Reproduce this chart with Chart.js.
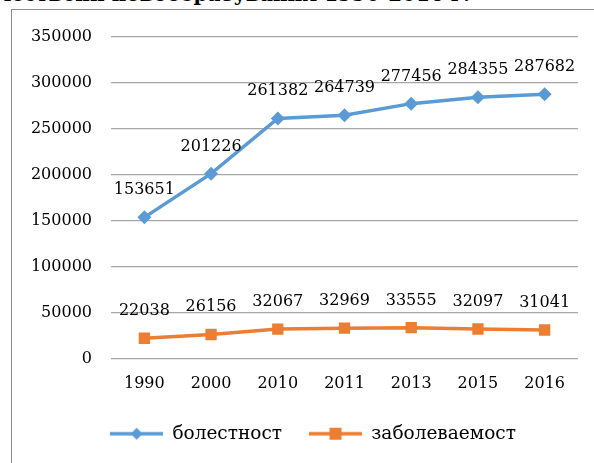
<!DOCTYPE html>
<html>
<head>
<meta charset="utf-8">
<script src="https://cdn.jsdelivr.net/npm/chart.js@4/dist/chart.umd.min.js"></script>
<style>
html,body{margin:0;padding:0;background:#fff;overflow:hidden;}
#wrap{position:relative;width:594px;height:463px;overflow:hidden;}
#frame{position:absolute;left:11px;top:9px;width:640px;height:520px;border:1px solid #8c8c8c;box-sizing:border-box;}
#head{position:absolute;right:124px;top:-18px;white-space:nowrap;font:bold 20px "DejaVu Serif",serif;color:#000;}
canvas{position:absolute;left:0;top:0;}
</style>
</head>
<body>
<div id="wrap">
	<div id="head">Болестност и заболеваемост от злокачествени новообразувания 1990-2016 г.</div>
	<div id="frame"></div>
	<canvas id="c" width="594" height="463"></canvas>
</div>
<script>
const years = ['1990','2000','2010','2011','2013','2015','2016'];
const bolestnost = [153651,201226,261382,264739,277456,284355,287682];
const zabolevaemost = [22038,26156,32067,32969,33555,32097,31041];
const blue = '#5B9BD5';
const orange = '#ED7D31';
const fontFam = '"DejaVu Serif", serif';
const fs = 16;

// legend swatch: line with the marker in the middle
function swatch(col,shape){
	var c = document.createElement('canvas');
	c.width = 53; c.height = 16;
	var g = c.getContext('2d');
	g.strokeStyle = col; g.lineWidth = 3.5;
	g.beginPath(); g.moveTo(0,8); g.lineTo(53,8); g.stroke();
	g.fillStyle = col;
	if(shape=='diamond'){
		g.beginPath(); g.moveTo(26.5,2); g.lineTo(32.5,8); g.lineTo(26.5,14); g.lineTo(20.5,8); g.closePath(); g.fill();
	}else{
		g.fillRect(20.5,2,12,12);
	}
	return c;
}

const valueLabels = {
	id:'valueLabels',
	afterDatasetsDraw:function(chart){
		var ctx = chart.ctx;
		ctx.save();
		ctx.font = fs+'px '+fontFam;
		ctx.fillStyle = '#000';
		ctx.textAlign = 'center';
		ctx.textBaseline = 'alphabetic';
		chart.data.datasets.forEach(function(ds,i){
			chart.getDatasetMeta(i).data.forEach(function(pt,j){
				ctx.fillText(String(ds.data[j]),pt.x,pt.y-23);
			});
		});
		ctx.restore();
	}
};

// the legend sits centred under the plot area, not the whole canvas
const legendShift = {
	id:'legendShift',
	afterLayout:function(chart){ if(chart.legend) chart.legend.left += 48; }
};

new Chart(document.getElementById('c'),{
	type:'line',
	data:{
		labels:years,
		datasets:[
			{label:'болестност',data:bolestnost,borderColor:blue,backgroundColor:blue,borderWidth:3.5,pointStyle:'rectRot',pointRadius:7,pointHoverRadius:7,pointBorderWidth:0,tension:0},
			{label:'заболеваемост',data:zabolevaemost,borderColor:orange,backgroundColor:orange,borderWidth:3.5,pointStyle:'rect',pointRadius:8,pointHoverRadius:8,pointBorderWidth:0,tension:0}
		]
	},
	options:{
		responsive:false,
		animation:false,
		devicePixelRatio:1,
		layout:{padding:{left:0,right:16,top:37,bottom:10}},
		font:{family:fontFam,size:fs},
		scales:{
			x:{
				offset:true,
				grid:{display:false,drawTicks:false},
				border:{display:false},
				ticks:{color:'#000',padding:16,font:{family:fontFam,size:fs}},
				afterFit:function(s){ s.height = 39; }
			},
			y:{
				min:0,max:350000,
				ticks:{stepSize:50000,color:'#000',padding:19,font:{family:fontFam,size:fs},
					callback:function(v){ return String(v); }},
				grid:{color:'#a6a6a6',lineWidth:1.3,drawTicks:false},
				border:{display:false},
				afterFit:function(s){ s.width = 111; }
			}
		},
		plugins:{
			tooltip:{enabled:false},
			legend:{
				position:'bottom',
				labels:{
					usePointStyle:true,
					pointStyleWidth:53,
					color:'#000',
					padding:27,
					font:{family:fontFam,size:18.5},
					generateLabels:function(chart){
						return chart.data.datasets.map(function(ds,i){
							return {text:ds.label,datasetIndex:i,fontColor:'#000',lineWidth:0,strokeStyle:'transparent',fillStyle:ds.borderColor,
								pointStyle:swatch(ds.borderColor,i==0?'diamond':'square'),hidden:false};
						});
					}
				}
			}
		}
	},
	plugins:[valueLabels,legendShift]
});
</script>
</body>
</html>
